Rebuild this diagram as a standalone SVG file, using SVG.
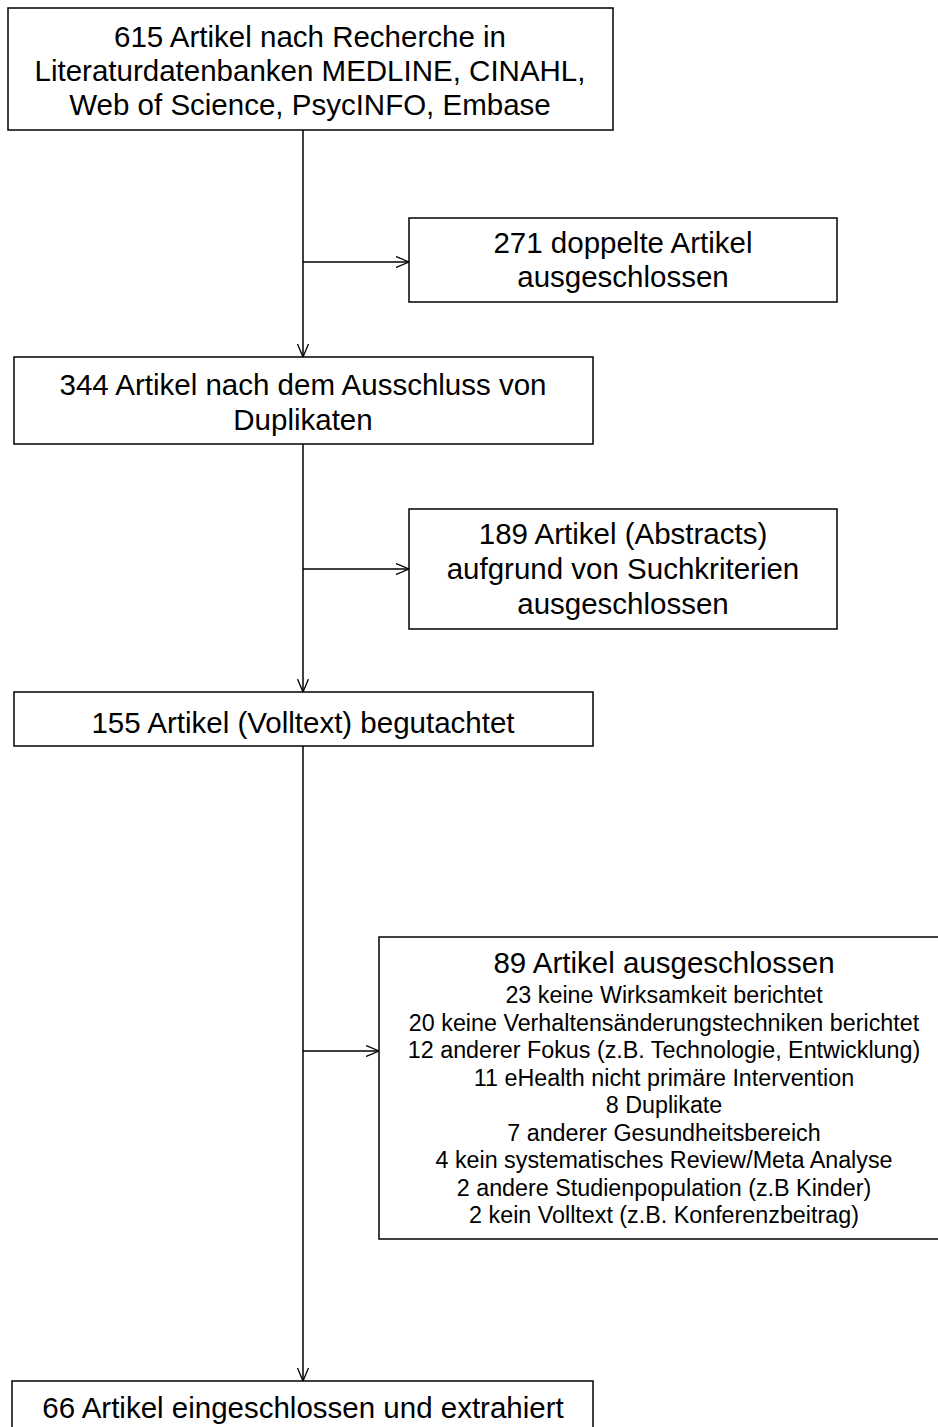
<svg xmlns="http://www.w3.org/2000/svg" width="938" height="1427" viewBox="0 0 938 1427">
<style>
.box{fill:#fff;stroke:#000;stroke-width:1.5}
.t{font-family:"Liberation Sans",Arial,sans-serif;font-size:29.5px;fill:#000;text-anchor:middle}
.s{font-family:"Liberation Sans",Arial,sans-serif;font-size:23.3px;fill:#000;text-anchor:middle}
.ln{fill:none;stroke:#000;stroke-width:1.5}
</style>
<defs>
<marker id="ah" viewBox="0 0 14 12" refX="13.5" refY="6" markerWidth="14" markerHeight="12" markerUnits="userSpaceOnUse" orient="auto">
<path d="M0.5,0.5 L13.5,6 L0.5,11.5" fill="none" stroke="#000" stroke-width="1.3"/>
</marker>
</defs>
<rect width="938" height="1427" fill="#fff"/>
<g id="connectors">
<line class="ln" x1="303" y1="130" x2="303" y2="357" marker-end="url(#ah)"/>
<line class="ln" x1="303" y1="262" x2="409" y2="262" marker-end="url(#ah)"/>
<line class="ln" x1="303" y1="444" x2="303" y2="692" marker-end="url(#ah)"/>
<line class="ln" x1="303" y1="569" x2="409" y2="569" marker-end="url(#ah)"/>
<line class="ln" x1="303" y1="746" x2="303" y2="1381" marker-end="url(#ah)"/>
<line class="ln" x1="303" y1="1051" x2="379" y2="1051" marker-end="url(#ah)"/>
</g>
<g id="n1">
<rect class="box" x="8" y="8" width="605" height="122"/>
<text class="t" x="310" y="47">615 Artikel nach Recherche in</text>
<text class="t" x="310" y="81">Literaturdatenbanken MEDLINE, CINAHL,</text>
<text class="t" x="310" y="115">Web of Science, PsycINFO, Embase</text>
</g>
<g id="n2">
<rect class="box" x="409" y="218" width="428" height="84"/>
<text class="t" x="623" y="253">271 doppelte Artikel</text>
<text class="t" x="623" y="287">ausgeschlossen</text>
</g>
<g id="n3">
<rect class="box" x="14" y="357" width="579" height="87"/>
<text class="t" x="303" y="395">344 Artikel nach dem Ausschluss von</text>
<text class="t" x="303" y="430">Duplikaten</text>
</g>
<g id="n4">
<rect class="box" x="409" y="509" width="428" height="120"/>
<text class="t" x="623" y="544">189 Artikel (Abstracts)</text>
<text class="t" x="623" y="579">aufgrund von Suchkriterien</text>
<text class="t" x="623" y="614">ausgeschlossen</text>
</g>
<g id="n5">
<rect class="box" x="14" y="692" width="579" height="54"/>
<text class="t" x="303" y="733">155 Artikel (Volltext) begutachtet</text>
</g>
<g id="n6">
<rect class="box" x="379" y="937" width="570" height="302"/>
<text class="t" x="664" y="973">89 Artikel ausgeschlossen</text>
<text class="s" x="664" y="1003">23 keine Wirksamkeit berichtet</text>
<text class="s" x="664" y="1030.5">20 keine Verhaltensänderungstechniken berichtet</text>
<text class="s" x="664" y="1058">12 anderer Fokus (z.B. Technologie, Entwicklung)</text>
<text class="s" x="664" y="1085.5">11 eHealth nicht primäre Intervention</text>
<text class="s" x="664" y="1113">8 Duplikate</text>
<text class="s" x="664" y="1140.5">7 anderer Gesundheitsbereich</text>
<text class="s" x="664" y="1168">4 kein systematisches Review/Meta Analyse</text>
<text class="s" x="664" y="1195.5">2 andere Studienpopulation (z.B Kinder)</text>
<text class="s" x="664" y="1223">2 kein Volltext (z.B. Konferenzbeitrag)</text>
</g>
<g id="n7">
<rect class="box" x="12" y="1381" width="581" height="70"/>
<text class="t" x="303" y="1418">66 Artikel eingeschlossen und extrahiert</text>
</g>
</svg>
